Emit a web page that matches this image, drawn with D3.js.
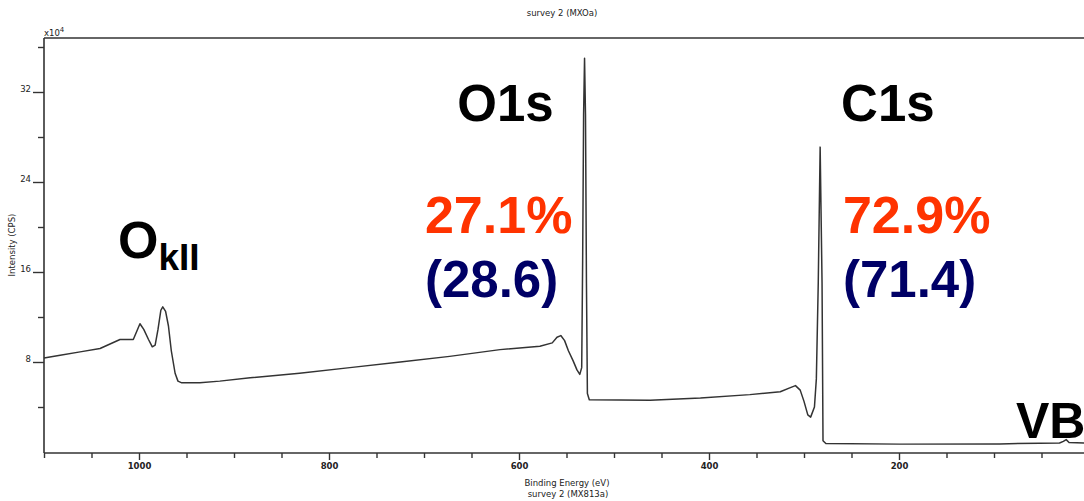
<!DOCTYPE html>
<html>
<head>
<meta charset="utf-8">
<script src="https://cdn.jsdelivr.net/npm/d3@7/dist/d3.min.js"></script>
<style>
  html, body { margin: 0; padding: 0; background: #fff; }
  svg { display: block; }
  .small { font-family: "DejaVu Sans", Verdana, sans-serif; font-size: 8.5px; fill: #222; }
  .big { font-family: Arial, "Liberation Sans", sans-serif; font-weight: bold; }
</style>
</head>
<body>
<svg id="chart" width="1084" height="501"></svg>
<script>
// XPS survey spectrum: binding energy (eV) vs. intensity (x10^4 CPS)
const bindingEnergy = [1100, 1083, 1062, 1041, 1020, 1012, 1006, 1002, 999, 995, 990, 986, 983, 980, 977, 975, 972, 969, 966, 962, 959, 955, 936, 915, 883, 831, 778, 725, 673, 620, 578, 565, 560, 556, 552, 548, 543, 539, 536, 534, 533, 532, 531, 530, 529, 528, 526, 462, 409, 357, 325, 315, 309, 304, 300, 296, 293, 289, 287, 285, 283, 281, 280, 277, 199, 94, 52, 31, 27, 24, 21, 5];
const intensity = [8.35, 8.6, 8.9, 9.2, 10.0, 10.0, 10.0, 10.8, 11.4, 10.9, 10.0, 9.35, 9.5, 10.9, 12.6, 12.9, 12.5, 11.2, 9.0, 7.0, 6.3, 6.15, 6.15, 6.3, 6.6, 7.0, 7.5, 8.0, 8.5, 9.1, 9.4, 9.7, 10.2, 10.35, 9.9, 9.0, 8.1, 7.3, 6.9, 7.5, 17, 30, 35.0, 30, 15, 5.2, 4.65, 4.6, 4.8, 5.1, 5.35, 5.7, 5.9, 5.5, 4.5, 3.3, 3.1, 4.0, 6.5, 15, 27.1, 15, 1.0, 0.75, 0.7, 0.72, 0.78, 0.8, 0.95, 1.1, 0.85, 0.8];

const xTicks = d3.range(1100, -1, -50);
const xLabels = [1000, 800, 600, 400, 200];
const yTicks = [4, 8, 12, 16, 20, 24, 28, 32, 36];
const yLabels = [8, 16, 24, 32];

// peak annotations: name, atomic %, (reference value)
const peakNames = ["O1s", "C1s"];
const peakPercent = ["27.1%", "72.9%"];
const peakRef = ["(28.6)", "(71.4)"];
const peakNameEnergy = [665, 261];
const peakPercentEnergy = [699, 259];

const svg = d3.select("#chart");
const plotLeft = 44, plotRight = 1089, plotTop = 38, plotBottom = 452;

const x = d3.scaleLinear().domain([1100, 0]).range([plotLeft, plotRight]);
const y = d3.scaleLinear().domain([0, 36.8]).range([plotBottom, plotTop]);

// frame: left axis, top border, bottom axis
const frame = svg.append("g").attr("stroke", "#333").attr("stroke-width", 1.6).attr("fill", "none");
frame.append("line").attr("x1", plotLeft).attr("x2", plotLeft).attr("y1", plotTop).attr("y2", plotBottom + 1);
frame.append("line").attr("x1", plotLeft).attr("x2", 1084).attr("y1", plotTop).attr("y2", plotTop);
frame.append("line").attr("x1", plotLeft).attr("x2", 1084).attr("y1", plotBottom + 1).attr("y2", plotBottom + 1);

// x axis ticks
const xAxis = d3.axisBottom(x)
  .tickValues(xTicks)
  .tickSize(0)
  .tickFormat(d => xLabels.includes(d) ? d : "");
const gx = svg.append("g").attr("transform", `translate(0,${plotBottom + 1})`).call(xAxis);
gx.select(".domain").remove();
gx.selectAll(".tick line")
  .attr("y2", d => xLabels.includes(d) ? 7 : 5)
  .attr("stroke", "#333").attr("stroke-width", 1.4);
gx.selectAll(".tick text")
  .attr("class", "small").attr("y", 10).attr("dy", "0.71em")
  .style("font-weight", "bold");

// y axis ticks
const yAxis = d3.axisLeft(y)
  .tickValues(yTicks)
  .tickSize(0)
  .tickFormat(d => yLabels.includes(d) ? d : "");
const gy = svg.append("g").attr("transform", `translate(${plotLeft},0)`).call(yAxis);
gy.select(".domain").remove();
gy.selectAll(".tick line")
  .attr("x2", d => yLabels.includes(d) ? -11 : -6)
  .attr("stroke", "#333").attr("stroke-width", 1.4);
gy.selectAll(".tick text")
  .attr("class", "small").attr("x", -13).attr("dy", "-0.1em");

// exponent marker
const exp = svg.append("text").attr("class", "small").attr("x", plotLeft).attr("y", 36);
exp.append("tspan").text("x10");
exp.append("tspan").attr("dy", -4).attr("font-size", "7px").text("4");

// titles
svg.append("text").attr("class", "small").attr("x", 562).attr("y", 16)
  .attr("text-anchor", "middle").text("survey 2 (MXOa)");
svg.append("text").attr("class", "small").attr("x", 567).attr("y", 486)
  .attr("text-anchor", "middle").text("Binding Energy (eV)");
svg.append("text").attr("class", "small").attr("x", 568).attr("y", 497)
  .attr("text-anchor", "middle").text("survey 2 (MX813a)");
svg.append("text").attr("class", "small")
  .attr("transform", "translate(15,245) rotate(-90)")
  .attr("text-anchor", "middle").text("Intensity (CPS)");

// spectrum trace
const line = d3.line().x((d, i) => x(bindingEnergy[i])).y(d => y(d));
svg.append("path")
  .datum(intensity)
  .attr("d", line)
  .attr("fill", "none")
  .attr("stroke", "#333")
  .attr("stroke-width", 1.5)
  .attr("stroke-linejoin", "round");

// peak labels
peakNames.forEach((name, i) => {
  svg.append("text").attr("class", "big").attr("x", x(peakNameEnergy[i])).attr("y", 121)
    .attr("font-size", "51px").attr("fill", "#000").text(name);
  svg.append("text").attr("class", "big").attr("x", x(peakPercentEnergy[i])).attr("y", 233)
    .attr("font-size", "52px").attr("fill", "#ff3300").text(peakPercent[i]);
  svg.append("text").attr("class", "big").attr("x", x(peakPercentEnergy[i])).attr("y", 297)
    .attr("font-size", "51px").attr("fill", "#000066").text(peakRef[i]);
});

// Auger and valence band labels
const auger = svg.append("text").attr("class", "big").attr("x", 118).attr("y", 258)
  .attr("font-size", "52px").attr("fill", "#000");
auger.append("tspan").text("O");
auger.append("tspan").attr("dy", 12).attr("font-size", "37px").text("kII");

svg.append("text").attr("class", "big").attr("x", 1016).attr("y", 438)
  .attr("font-size", "50px").attr("fill", "#000").text("VB");
</script>
</body>
</html>
